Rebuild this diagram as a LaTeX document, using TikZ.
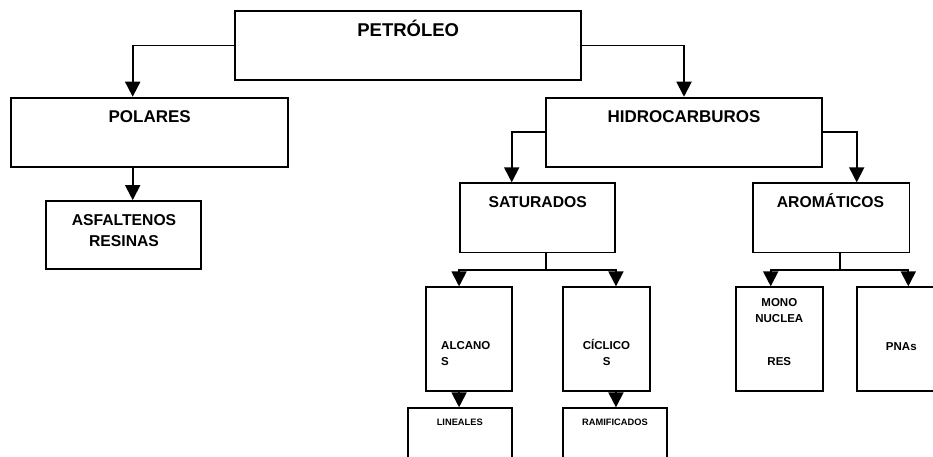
\documentclass[tikz,border=0pt]{standalone}
\usepackage{fontspec}
\setmainfont{Liberation Sans}
\usetikzlibrary{arrows.meta}
\begin{document}
\begin{tikzpicture}[x=1pt,y=-1pt,
  box/.style={draw=black, line width=1.9pt, fill=white, rectangle, inner sep=0pt},
  arr/.style={line width=1.9pt, -{Triangle[length=15pt,width=15pt]}},
  conn/.style={line width=1.9pt},
  tA/.style={inner sep=0pt, anchor=base, font=\fontsize{18.5}{22}\selectfont\bfseries},
  tB/.style={inner sep=0pt, anchor=base, font=\fontsize{17}{20}\selectfont\bfseries},
  tC/.style={inner sep=0pt, anchor=base, font=\fontsize{15.7}{19}\selectfont\bfseries},
  tD/.style={inner sep=0pt, anchor=base, font=\fontsize{11.5}{14}\selectfont\bfseries},
  tE/.style={inner sep=0pt, anchor=base, font=\fontsize{9.3}{11}\selectfont\bfseries}]
\useasboundingbox (0,0) rectangle (933,457);
\clip (0,0) rectangle (933,457);
\fill[white] (0,0) rectangle (933,457);

% boxes
\node[box, minimum width=345.7pt, minimum height=69pt] (pet) at (408.2,45.5) {};
\node[box, minimum width=277.3pt, minimum height=69pt] (pol) at (149.7,132.2) {};
\node[box, minimum width=155.6pt, minimum height=68.3pt] (asf) at (123.5,235.2) {};
\node[box, minimum width=276.6pt, minimum height=69pt] (hid) at (684,132.2) {};
\node[box, minimum width=155pt, minimum height=69.2pt] (sat) at (537.5,217.9) {};
\node[box, minimum width=156.2pt, minimum height=69.2pt] (aro) at (831.4,217.9) {};
\node[box, minimum width=86pt, minimum height=103.4pt] (alc) at (468.7,339) {};
\node[box, minimum width=86.7pt, minimum height=103.4pt] (cic) at (606.7,339) {};
\node[box, minimum width=86.7pt, minimum height=103.4pt] (mon) at (779.3,339) {};
\node[box, minimum width=90pt, minimum height=103.4pt] (pna) at (901.7,339) {};
\node[box, minimum width=103.4pt, minimum height=100pt] (lin) at (460,458.3) {};
\node[box, minimum width=103.4pt, minimum height=100pt] (ram) at (615,458.3) {};

% helper coordinates
\coordinate (xpol) at (132.7,0);
\coordinate (sj) at (546,270);
\coordinate (aj) at (840,270);
\coordinate (xmon) at (770.7,0);
\coordinate (xpna) at (908.3,0);

% connectors
\draw[arr] (pet.west) -| (pol.north -| xpol);
\draw[arr] (pet.east) -| (hid.north);
\draw[arr] (pol.south -| xpol) -- (asf.north -| xpol);
\draw[arr] (hid.west) -| ([xshift=-25.8pt]sat.north);
\draw[arr] (hid.east) -| ([xshift=25.3pt]aro.north);
\draw[conn] (sat.south -| sj) -- (sj);
\draw[arr] (sj) -| (alc.north -| sat.west);
\draw[arr] (sj) -| (cic.north -| sat.east);
\draw[arr] (alc.south -| sat.west) -- (lin.north -| sat.west);
\draw[arr] (cic.south -| sat.east) -- (ram.north -| sat.east);
\draw[conn] (aro.south -| aj) -- (aj);
\draw[arr] (aj) -| (mon.north -| xmon);
\draw[arr] (aj) -| (pna.north -| xpna);

% texts
\node[tA] (tpet) at (408.2,36.7) {PETRÓLEO};
\node[tB] (tpol) at (149.7,122.3) {POLARES};
\node[tC] (tasf1) at (124,225) {ASFALTENOS};
\node[tC] (tasf2) at (124,246) {RESINAS};
\node[tB] (thid) at (684,122.3) {HIDROCARBUROS};
\node[tC] (tsat) at (537.7,207.3) {SATURADOS};
\node[tC] (taro) at (830.5,207.3) {AROMÁTICOS};
\node[tD, anchor=base west] (talc1) at (441,349.3) {ALCANO};
\node[tD, anchor=base west] (talc2) at (441,365) {S};
\node[tD] (tcic1) at (606.5,349.3) {CÍCLICO};
\node[tD] (tcic2) at (606.7,365) {S};
\node[tD] (tmon1) at (779.3,306) {MONO};
\node[tD] (tmon2) at (779.3,322) {NUCLEA};
\node[tD] (tmon3) at (779.3,365) {RES};
\node[tD] (tpna) at (901.3,350) {PNAs};
\node[tE] (tlin) at (459.8,425) {LINEALES};
\node[tE] (tram) at (615,425) {RAMIFICADOS};
\end{tikzpicture}
\end{document}
